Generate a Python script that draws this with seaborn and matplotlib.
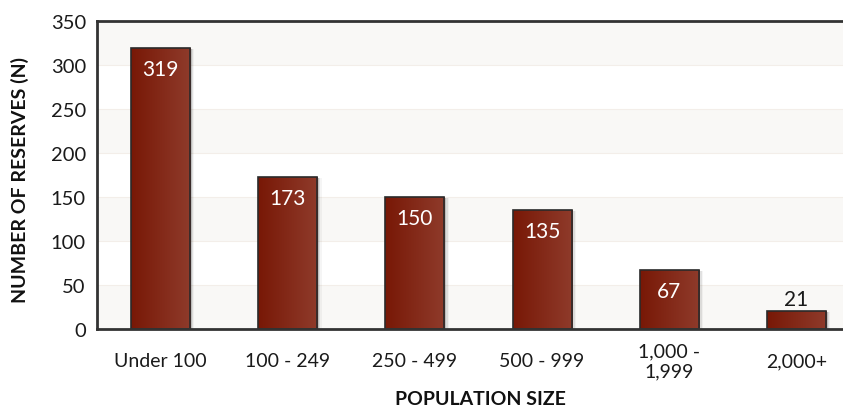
import numpy as np
import pandas as pd
import matplotlib
matplotlib.use("Agg")
import matplotlib.pyplot as plt
import seaborn as sns
from matplotlib.patches import Rectangle
from matplotlib.colors import LinearSegmentedColormap

categories = ["Under 100", "100 - 249", "250 - 499", "500 - 999", "1,000 -\n1,999", "2,000+"]
values = [319, 173, 150, 135, 67, 21]
yticks = [0, 50, 100, 150, 200, 250, 300, 350]

sns.set_theme(style="white")
plt.rcParams['font.family'] = ['Lato', 'DejaVu Sans']

df = pd.DataFrame({"cat": categories, "val": values})

fig = plt.figure(figsize=(8.43, 4.10), dpi=100)
ax = fig.add_axes([97/843, 80/410, 763/843, 308/410])

sns.barplot(data=df, x="cat", y="val", ax=ax, width=0.465, color="#7a1a08",
            edgecolor="#2a2a2a", linewidth=1.2, zorder=3)
bars = list(ax.patches)

ax.set_ylim(0, 350)
ax.set_xlim(-0.5, 5.5)

# alternating bands
for i, lo in enumerate(range(0, 350, 50)):
    if i % 2 == 0:
        ax.axhspan(lo, lo + 50, color="#f9f8f6", zorder=0, lw=0)
    ax.axhline(lo, color="#f3eee9", lw=0.8, zorder=0.5)

cmap = LinearSegmentedColormap.from_list("g", ["#781806", "#8f3b2b"])
grad = np.linspace(0, 1, 256).reshape(1, -1)
for p in bars:
    x0, y0, w, h = p.get_x(), p.get_y(), p.get_width(), p.get_height()
    for off, a in [(0.012, 0.14), (0.024, 0.08), (0.034, 0.04)]:
        ax.add_patch(Rectangle((x0 + off, y0), w, max(h - 1.2, 0), facecolor="#000000",
                               alpha=a, lw=0, zorder=2))
    im = ax.imshow(grad, extent=[x0, x0 + w, y0, y0 + h], aspect="auto",
                   cmap=cmap, zorder=3.5)
    im.set_clip_path(p)
    p.set_zorder(4)
    p.set_facecolor("none")

for i, v in enumerate(values):
    if v > 40:
        ax.text(i, v - 24, str(v), ha="center", va="center", color="white",
                fontsize=15, zorder=6)
    else:
        ax.text(i, v + 13, str(v), ha="center", va="center", color="#1a1a1a",
                fontsize=15, zorder=6)

ax.set_yticks(yticks)
ax.set_xticks(range(len(categories)))
ax.set_xticklabels(categories, fontsize=14, color="#1a1a1a", linespacing=1.2)
for lbl in ax.get_xticklabels():
    lbl.set_va("center")
ax.tick_params(axis="x", length=0, pad=23)
ax.tick_params(axis="y", labelsize=14.5, labelcolor="#1a1a1a", direction="inout",
               length=8, width=1.3, color="#333333", pad=4)
ax.set_xticks(np.arange(0.5, 5.6, 1.0), minor=True)
ax.tick_params(axis="x", which="minor", direction="inout", length=8, width=1.3,
               color="#333333")

for s in ["left", "bottom", "top"]:
    ax.spines[s].set_visible(True)
    ax.spines[s].set_color("#333333")
    ax.spines[s].set_linewidth(2)
    ax.spines[s].set_zorder(7)
ax.spines["right"].set_visible(False)

ax.set_xlabel("POPULATION SIZE", fontsize=14, fontweight="bold", color="#111111",
              va="center")
ax.set_ylabel("NUMBER OF RESERVES (N)", fontsize=14, fontweight="bold", color="#111111",
              va="center")
ax.xaxis.set_label_coords(0.502, -0.227)
ax.yaxis.set_label_coords(-0.101, 0.487)

fig.savefig("out.png", dpi=100)
